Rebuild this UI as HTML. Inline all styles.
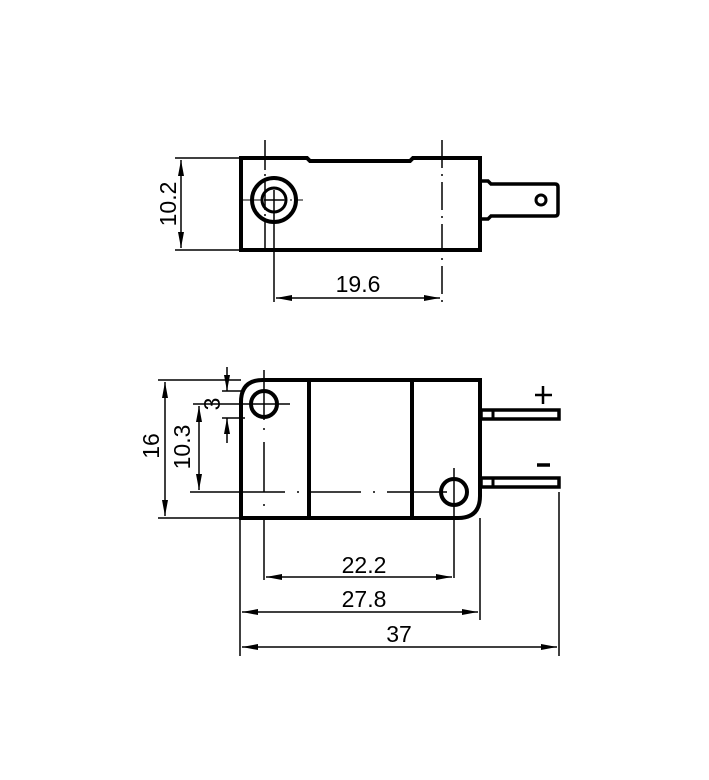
<!DOCTYPE html>
<html><head><style>body{margin:0;background:#fff}svg{display:block}text{font-family:"Liberation Sans",sans-serif;font-size:23px;fill:#000}</style></head>
<body>
<svg width="709" height="780" viewBox="0 0 709 780" xmlns="http://www.w3.org/2000/svg">
<defs>
<marker id="a" viewBox="0 0 16 6" refX="16" refY="3" markerWidth="16" markerHeight="6" markerUnits="userSpaceOnUse" orient="auto-start-reverse"><path d="M0,0 L16,3 L0,6 z" fill="#000"/></marker>
</defs>
<g fill="none" stroke="#000">
<!-- TOP VIEW -->
<path d="M241,158 H307 L310,161 H410 L413,158 H480 V250 H241 Z" stroke-width="4"/>
<circle cx="274" cy="200" r="22" stroke-width="4"/>
<circle cx="274" cy="200" r="12" stroke-width="3"/>
<line x1="264" y1="200" x2="284" y2="200" stroke-width="1.5"/>
<line x1="243" y1="200" x2="303" y2="200" stroke-width="1" stroke-dasharray="18,3,2,3"/>
<line x1="265" y1="140" x2="265" y2="254" stroke-width="1.5" stroke-dasharray="30,4,2,4"/>
<line x1="274" y1="190" x2="274" y2="302" stroke-width="1.5"/>
<line x1="442" y1="140" x2="442" y2="302" stroke-width="1.5" stroke-dasharray="28,6,2,6"/>
<path d="M481,181 H488 L491,184 H555 Q558,184 558,187 V213 Q558,216 555,216 H491 L488,219 H481" stroke-width="3.5"/>
<circle cx="541" cy="200" r="5" stroke-width="3"/>
<line x1="175" y1="158" x2="240" y2="158" stroke-width="1.5"/>
<line x1="175" y1="250" x2="240" y2="250" stroke-width="1.5"/>
<line x1="181" y1="160" x2="181" y2="248" stroke-width="1.5" marker-start="url(#a)" marker-end="url(#a)"/>
<line x1="276" y1="298" x2="440" y2="298" stroke-width="1.5" marker-start="url(#a)" marker-end="url(#a)"/>
<!-- BOTTOM VIEW -->
<path d="M241,518 V402 Q241,380 263,380 H480 V496 Q480,518 458,518 Z" stroke-width="4"/>
<line x1="309" y1="380" x2="309" y2="518" stroke-width="4"/>
<line x1="412" y1="380" x2="412" y2="518" stroke-width="4"/>
<circle cx="264" cy="404" r="13" stroke-width="4"/>
<line x1="236" y1="404" x2="290" y2="404" stroke-width="1.5"/>
<line x1="264" y1="370" x2="264" y2="420" stroke-width="1.5"/>
<line x1="264" y1="428" x2="264" y2="512" stroke-width="1.5" stroke-dasharray="2,12,50,12,2,30"/>
<circle cx="454" cy="492" r="13" stroke-width="4"/>
<line x1="454" y1="468" x2="454" y2="578" stroke-width="1.5"/>
<line x1="190" y1="492" x2="470" y2="492" stroke-width="1.5" stroke-dasharray="95,12,2,12,50,12,2,12,60"/>
<rect x="481" y="410" width="78" height="9" stroke-width="3.5"/>
<line x1="493" y1="410" x2="493" y2="419" stroke-width="3"/>
<rect x="481" y="478" width="78" height="9" stroke-width="3.5"/>
<line x1="493" y1="478" x2="493" y2="487" stroke-width="3"/>
<line x1="535" y1="395" x2="552" y2="395" stroke-width="2.5"/>
<line x1="543" y1="386" x2="543" y2="404" stroke-width="2.5"/>
<line x1="537" y1="465" x2="550" y2="465" stroke-width="3.5"/>
<!-- dims -->
<line x1="158" y1="380" x2="241" y2="380" stroke-width="1.5"/>
<line x1="158" y1="518" x2="241" y2="518" stroke-width="1.5"/>
<line x1="165" y1="382" x2="165" y2="516" stroke-width="1.5" marker-start="url(#a)" marker-end="url(#a)"/>
<line x1="193" y1="404" x2="236" y2="404" stroke-width="1.5"/>
<line x1="199" y1="406" x2="199" y2="490" stroke-width="1.5" marker-start="url(#a)" marker-end="url(#a)"/>
<line x1="222" y1="391" x2="245" y2="391" stroke-width="1.5"/>
<line x1="222" y1="418" x2="245" y2="418" stroke-width="1.5"/>
<line x1="227" y1="367" x2="227" y2="391" stroke-width="1.5" marker-end="url(#a)"/>
<line x1="227" y1="443" x2="227" y2="418" stroke-width="1.5" marker-end="url(#a)"/>
<line x1="240" y1="518" x2="240" y2="656" stroke-width="1.5"/>
<line x1="480" y1="518" x2="480" y2="620" stroke-width="1.5"/>
<line x1="559" y1="492" x2="559" y2="656" stroke-width="1.5"/>
<line x1="264" y1="518" x2="264" y2="580" stroke-width="1.5"/>
<line x1="266" y1="577" x2="452" y2="577" stroke-width="1.5" marker-start="url(#a)" marker-end="url(#a)"/>
<line x1="242" y1="612" x2="478" y2="612" stroke-width="1.5" marker-start="url(#a)" marker-end="url(#a)"/>
<line x1="242" y1="647" x2="557" y2="647" stroke-width="1.5" marker-start="url(#a)" marker-end="url(#a)"/>
</g>
<text x="168" y="204" text-anchor="middle" transform="rotate(-90 168 204)" dy="8">10.2</text>
<text x="358" y="292" text-anchor="middle">19.6</text>
<text x="151" y="446" text-anchor="middle" transform="rotate(-90 151 446)" dy="8">16</text>
<text x="182" y="447" text-anchor="middle" transform="rotate(-90 182 447)" dy="8">10.3</text>
<text x="212" y="404" text-anchor="middle" transform="rotate(-90 212 404)" dy="8">3</text>
<text x="364" y="573" text-anchor="middle">22.2</text>
<text x="364" y="607" text-anchor="middle">27.8</text>
<text x="399" y="642" text-anchor="middle">37</text>
</svg>
</body></html>
